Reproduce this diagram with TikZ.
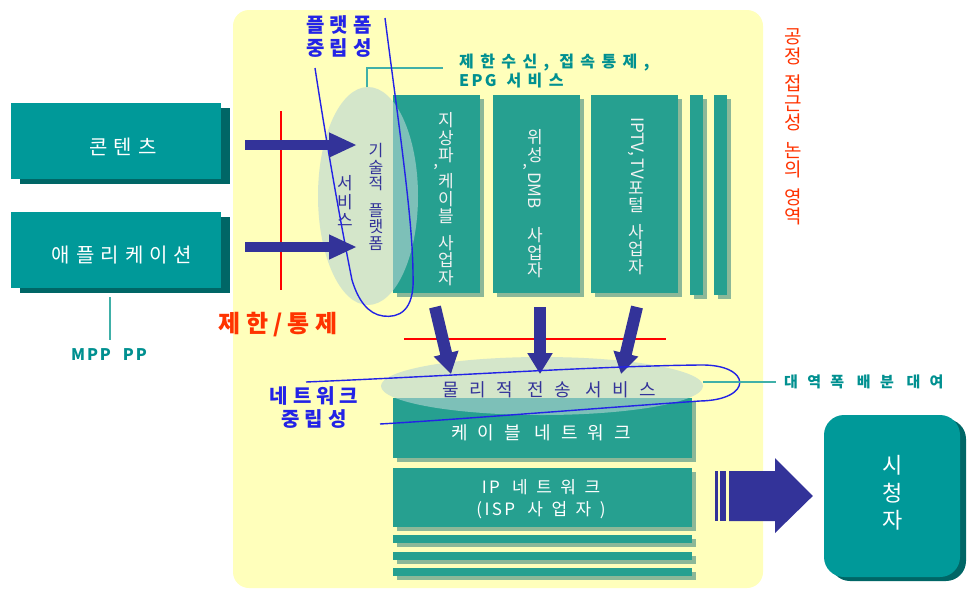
\documentclass[tikz,border=0pt]{standalone}
\usepackage{fontspec}
\setmainfont{Noto Sans CJK KR}
\usetikzlibrary{arrows.meta,shapes.geometric,shadows}
\definecolor{yel}{HTML}{FFFFBB}
\definecolor{tealA}{HTML}{009999}
\definecolor{tealD}{HTML}{006666}
\definecolor{tealB}{HTML}{26A090}
\definecolor{tshadow}{HTML}{8CB898}
\definecolor{ellc}{HTML}{B8D6D4}
\definecolor{navy}{HTML}{333399}
\definecolor{bluel}{HTML}{2323E6}
\definecolor{redl}{HTML}{FF0000}
\definecolor{redt}{HTML}{FF3300}
\definecolor{tealtxt}{HTML}{009090}
\definecolor{tealline}{HTML}{40B0A8}
\newcommand\lowcomma{\llap{\raisebox{-5pt}{,}}}
\newcommand\latn[1]{{\addfontfeature{LetterSpace=14}#1}}
\tikzset{
  lbox/.style={fill=tealA, minimum width=210, minimum height=76, inner sep=0,
    drop shadow={shadow xshift=9pt, shadow yshift=-4.5pt, fill=tealD, opacity=1}},
  ltext/.style={text=white, inner sep=0, font=\fontsize{20}{22}\selectfont\addfontfeature{LetterSpace=30}},
  vbox/.style={fill=tealB, inner sep=0,
    drop shadow={shadow xshift=4pt, shadow yshift=-4pt, fill=tshadow, opacity=1}},
  vtext/.style={text=white!95!black, inner sep=0, align=center, font=\fontsize{17}{17.5}\selectfont},
  ell/.style={ellipse, fill=ellc, fill opacity=0.6, inner sep=0},
  bline/.style={draw=bluel, line width=1.4pt},
  harrow/.style={draw=navy, line width=10pt, -{Triangle[length=28pt,width=23pt]}},
  darrow/.style={draw=navy, line width=12pt, -{Triangle[length=21pt,width=24pt]}},
  redline/.style={draw=redl, line width=1.2pt},
  tline/.style={draw=tealline, line width=1.5pt},
  tealbold/.style={text=tealtxt, inner sep=0, font=\bfseries\fontsize{16}{19}\selectfont\addfontfeature{LetterSpace=40}},
  bluetxt/.style={text=bluel, inner sep=0, align=center, font=\bfseries\fontsize{20}{23}\selectfont\addfontfeature{LetterSpace=25}},
}
\begin{document}
\begin{tikzpicture}[x=1pt,y=-1pt]
\useasboundingbox (0,0) rectangle (967,590);
\fill[white] (0,0) rectangle (967,590);
% background region
\node[fill=yel, rounded corners=16pt, minimum width=530, minimum height=578, inner sep=0] (bg) at (498,299) {};

% left boxes
\node[lbox] (cont) at (116,141) {};
\node[ltext] (contT) at (123,147) {콘텐츠};
\node[lbox] (app) at (116,250) {};
\node[ltext] (appT) at (122,255) {애플리케이션};
\coordinate (mppTop) at (110,297);
\coordinate (mppBot) at (110,340);
\draw[tline] (mppTop) -- (mppBot);
\node[text=tealtxt, inner sep=0, font=\bfseries\fontsize{16}{18}\selectfont\addfontfeature{LetterSpace=12}] (mpp) at (109,355) {MPP\hspace{12pt}PP};

% vertical operator boxes
\node[vbox, minimum width=87, minimum height=198] (b1) at (436.5,194) {};
\node[vbox, minimum width=87, minimum height=198] (b2) at (536.5,194) {};
\node[vbox, minimum width=87, minimum height=198] (b3) at (634.5,194) {};
\node[vbox, minimum width=13, minimum height=200] (s1) at (696.5,195) {};
\node[vbox, minimum width=13, minimum height=200] (s2) at (720.5,195) {};
\node[vtext] (t1) at (446,199) {지\\상\\\lowcomma 파\\[2.5pt]케\\이\\블\\[9pt]사\\업\\자};
\node[vtext] (t2) at (535,204) {위\\\lowcomma 성\\[-6.5pt]\rotatebox{-90}{DMB}\\[18pt]사\\업\\자};
\node[vtext] (t3) at (636,196) {\rotatebox{-90}{IPTV,\,TV}\\[2pt]포\\털\\[9pt]사\\업\\자};

% service platform ellipse
\node[ell, minimum width=100, minimum height=218] (svc) at (368,196) {};
\node[text=navy, inner sep=0, align=center, font=\fontsize{16}{16.5}\selectfont] (svcA) at (376,197) {기\\술\\적\\[10pt]플\\랫\\폼};
\node[text=navy, inner sep=0, align=center, font=\fontsize{17}{18.5}\selectfont] (svcB) at (345,201) {서\\비\\스};

% callout
\coordinate (c1) at (367,87);
\coordinate (c2) at (367,68);
\coordinate (c3) at (443,68);
\draw[tline] (c1) -- (c2) -- (c3);
\node[tealbold, anchor=west, align=left] (epg) at (459,71) {제한수신, 접속통제,\\\latn{EPG} 서비스};

% platform neutrality
\node[bluetxt] (pn) at (339,37) {플랫폼\\중립성};
\coordinate (pl1) at (385,18);
\coordinate (pl2) at (315,68);
\draw[bline] (pl1) .. controls (398,120) and (413,220) .. (413,275)
  .. controls (415,312) and (398,318) .. (383,316)
  .. controls (368,314) and (358,300) .. (352,280)
  .. controls (340,220) and (326,140) .. (pl2);

% red control lines
\coordinate (rv1) at (281,111);
\coordinate (rv2) at (281,290);
\draw[redline] (rv1) -- (rv2);
\node[text=redt, inner sep=0, font=\bfseries\fontsize{24}{26}\selectfont\addfontfeature{LetterSpace=22}] (ctrl) at (278,325) {제한/통제};

% horizontal arrows
\coordinate (a1s) at (245,145);
\coordinate (a1e) at (357,145);
\coordinate (a2s) at (245,247);
\coordinate (a2e) at (357,247);
\draw[harrow] (a1s) -- (a1e);
\draw[harrow] (a2s) -- (a2e);

% lower boxes
\node[vbox, minimum width=299, minimum height=60] (cable) at (542.5,428) {};
\node[vbox, minimum width=299, minimum height=59] (ipn) at (542.5,497.5) {};
\node[vbox, minimum width=299, minimum height=8] (l1) at (542.5,539) {};
\node[vbox, minimum width=299, minimum height=8] (l2) at (542.5,556) {};
\node[vbox, minimum width=299, minimum height=8] (l3) at (542.5,572) {};
\node[text=white, inner sep=0, font=\fontsize{18}{20}\selectfont\addfontfeature{LetterSpace=55}] (cableT) at (541,433) {케이블 네트워크};
\node[text=white, inner sep=0, align=center, font=\fontsize{17}{22}\selectfont\addfontfeature{LetterSpace=50}] (ipT) at (541,499) {\latn{IP} 네트워크\\\latn{(ISP} 사업자)};

% physical transport ellipse
\node[ell, minimum width=322, minimum height=58] (phy) at (542,386) {};
\node[text=navy, inner sep=0, font=\fontsize{18}{20}\selectfont\addfontfeature{LetterSpace=58}] (phyT) at (549,390) {물리적 전송 서비스};

% red horizontal line
\coordinate (rh1) at (404,339);
\coordinate (rh2) at (666,339);
\draw[redline] (rh1) -- (rh2);

% down arrows
\coordinate (d1s) at (435,307);
\coordinate (d1e) at (451,374);
\coordinate (d2s) at (540,307);
\coordinate (d2e) at (540,374);
\coordinate (d3s) at (637,307);
\coordinate (d3e) at (621,374);
\draw[darrow] (d1s) -- (d1e);
\draw[darrow] (d2s) -- (d2e);
\draw[darrow] (d3s) -- (d3e);

% network neutrality
\node[bluetxt] (nn) at (314,408) {네트워크\\중립성};
\coordinate (nl1) at (306,382);
\coordinate (nl2) at (380,424);
\draw[bline] (nl1) .. controls (450,376) and (600,366) .. (700,365)
  .. controls (752,364) and (754,400) .. (700,401)
  .. controls (600,408) and (450,420) .. (nl2);

% bandwidth callout
\coordinate (bw1) at (703,382);
\coordinate (bw2) at (776,382);
\draw[tline] (bw1) -- (bw2);
\node[tealbold, anchor=west, font=\bfseries\fontsize{15}{18}\selectfont\addfontfeature{LetterSpace=62}] (bw) at (784,382) {대역폭 배분 대여};

% fair access label
\node[text=redt, inner sep=0, align=center, font=\fontsize{19}{19.5}\selectfont] (fair) at (793,127) {공\\정\\[8pt]접\\근\\성\\[8pt]논\\의\\[8pt]영\\역};

% viewer
\node[fill=tealA, rounded corners=20pt, minimum width=136, minimum height=162, inner sep=0,
  drop shadow={shadow xshift=6pt, shadow yshift=-4pt, fill=tealD, opacity=1}] (viewer) at (892,496) {};
\node[text=white, inner sep=0, align=center, font=\fontsize{22}{27.5}\selectfont] (viewerT) at (893,493) {시\\청\\자};

% big arrow to viewer
\fill[navy] (729,471) -- (775,471) -- (775,458) -- ([xshift=-11pt]viewer.west) -- (775,533) -- (775,521) -- (729,521) -- cycle;
\fill[navy] (715,471) rectangle (717.5,521);
\fill[navy] (720,471) rectangle (726,521);
\end{tikzpicture}
\end{document}
